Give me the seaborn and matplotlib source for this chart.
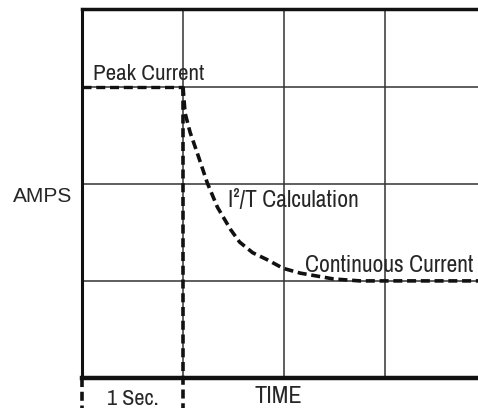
import matplotlib
matplotlib.use("Agg")
import matplotlib.pyplot as plt
from matplotlib import font_manager
import seaborn as sns
import pandas as pd

# Peak hold, then the I²/T decay towards the continuous rating
peak_t = [0.0, 1.0]
peak_amps = [3.0, 3.0]

decay_t = [1.0, 1.02, 1.07, 1.14, 1.24, 1.34, 1.47, 1.56, 1.69, 1.83, 1.99,
           2.16, 2.49, 2.75, 3.0, 3.92]
decay_amps = [3.0, 2.73, 2.53, 2.32, 2.01, 1.76, 1.53, 1.40, 1.29, 1.22, 1.13,
              1.08, 1.02, 1.0, 1.0, 1.0]

# "1 Sec." time markers, running below the time axis
marker_t = [0.0, 1.0]
marker_top = [0.0, 3.0]
marker_bottom = -0.31

grid_x = [1, 2, 3]
grid_y = [1, 2, 3]

labels = {
    "peak": "Peak Current",
    "calc": "I²/T Calculation",
    "cont": "Continuous Current",
    "amps": "AMPS",
    "time": "TIME",
    "sec": "1 Sec.",
}

sns.set_style("white")
plt.rcParams["lines.scale_dashes"] = False

installed = {f.name for f in font_manager.fontManager.ttflist}
narrow_pref = ["Liberation Sans Narrow", "Arial Narrow", "Archivo Narrow",
               "PT Sans Narrow", "Roboto Condensed", "Pragati Narrow",
               "Encode Sans Condensed", "Barlow Semi Condensed"]
narrow = [n for n in narrow_pref if n in installed][:1] + ["DejaVu Sans"]
regular = ["Liberation Sans", "DejaVu Sans"]

fig = plt.figure(figsize=(4.78, 4.08), dpi=100)
ax = fig.add_axes([82 / 478, 1 - 378 / 408, 1 - 82 / 478, 369 / 408])
ax.set_xlim(0, 3.92)
ax.set_ylim(0, 3.80)

for gx in grid_x:
    ax.axvline(gx, color="#333333", lw=1.1, zorder=1)
for gy in grid_y:
    ax.axhline(gy, color="#333333", lw=1.1, zorder=1)

dash = (0, (6.5, 3.4))
ink = "#111111"

peak_df = pd.DataFrame({"t": peak_t, "amps": peak_amps})
sns.lineplot(data=peak_df, x="t", y="amps", ax=ax, color=ink, lw=2.4,
             linestyle=dash, sort=False, estimator=None, zorder=3)

decay_df = pd.DataFrame({"t": decay_t, "amps": decay_amps})
sns.lineplot(data=decay_df, x="t", y="amps", ax=ax, color=ink, lw=2.6,
             linestyle=dash, sort=False, estimator=None, zorder=3,
             clip_on=False)

for mt, top in zip(marker_t, marker_top):
    mdf = pd.DataFrame({"t": [mt, mt], "amps": [top, marker_bottom]})
    sns.lineplot(data=mdf, x="t", y="amps", ax=ax, color=ink, lw=2.6,
                 linestyle=dash, sort=False, estimator=None, zorder=3,
                 clip_on=False)

ax.set_xticks([])
ax.set_yticks([])
ax.set_xlabel("")
ax.set_ylabel("")

ax.spines["right"].set_visible(False)
ax.spines["top"].set_linewidth(2.5)
ax.spines["left"].set_linewidth(2.2)
ax.spines["bottom"].set_linewidth(3.2)
for side in ("top", "left", "bottom"):
    ax.spines[side].set_color(ink)
    ax.spines[side].set_zorder(4)

txt = "#262626"
ax.text(0.11, 3.07, labels["peak"], family=narrow, fontsize=16.5, color=txt,
        va="baseline", ha="left")
ax.text(1.445, 1.763, labels["calc"], family=narrow, fontsize=17, color=txt,
        va="baseline", ha="left")
ax.text(2.21, 1.093, labels["cont"], family=narrow, fontsize=17, color=txt,
        va="baseline", ha="left")
ax.text(-0.1, 1.81, labels["amps"], family=regular, fontsize=15, color=txt,
        va="baseline", ha="right", clip_on=False)
ax.text(1.71, -0.258, labels["time"], family=narrow, fontsize=17.5, color=txt,
        va="baseline", ha="left", clip_on=False)
ax.text(0.25, -0.278, labels["sec"], family=narrow, fontsize=16, color=txt,
        va="baseline", ha="left", clip_on=False)

fig.savefig("out.png", dpi=100, facecolor="white")
